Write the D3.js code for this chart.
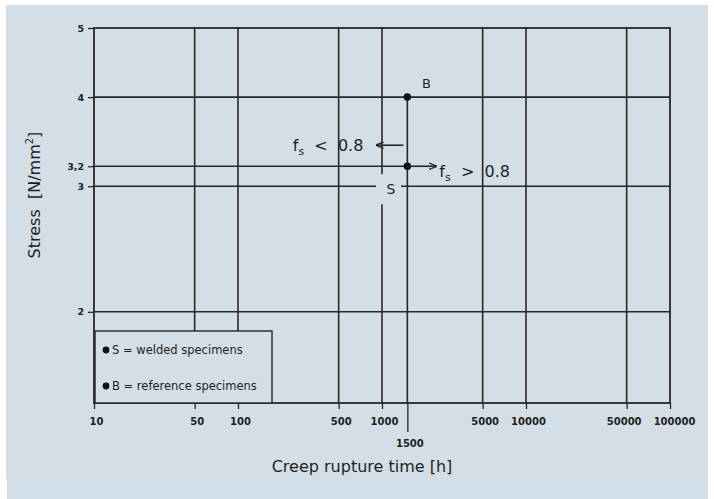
<!DOCTYPE html>
<html><head><meta charset="utf-8">
<script src="https://cdn.jsdelivr.net/npm/d3@7"></script>
<style>
html,body{margin:0;padding:0;background:#ffffff;}
svg{display:block;}
text{font-family:"DejaVu Sans",sans-serif;fill:#1e1e1e;}
</style></head>
<body>
<svg id="chart" width="714" height="499"></svg>
<script>
// ---- data ----
const xTickValues = [10, 50, 100, 500, 1000, 1500, 5000, 10000, 50000, 100000];
const xTickLabels = ["10", "50", "100", "500", "1000", "1500", "5000", "10000", "50000", "100000"];
const xGridValues = [50, 100, 500, 1000, 5000, 10000, 50000];
const yTickValues = [5, 4, 3.2, 3, 2];
const yTickLabels = ["5", "4", "3,2", "3", "2"];
const yGridValues = [4, 3.2, 3, 2];
const pointLabels = ["B", "S"];
const pointTimes = [1500, 1500];
const pointStress = [4, 3.2];
const legendLabels = ["S = welded specimens", "B = reference specimens"];
const xTitle = "Creep rupture time [h]";

// ---- layout ----
const svg = d3.select("#chart");
const bg = "#d4dee7";
const ink = "#262626";
svg.append("rect").attr("x", 6).attr("y", 5).attr("width", 702).attr("height", 474).attr("fill", bg);
svg.append("rect").attr("x", 7).attr("y", 479).attr("width", 701).attr("height", 20).attr("fill", "#d2dfe8");

const x = d3.scaleLog().domain([10, 100000]).range([94, 670]);
const y = d3.scaleLog().domain([1.49, 5]).range([403, 28]);

const g = svg.append("g");
const lw = 1.6;

// horizontal grid lines (3.2 line stops at the S point)
g.selectAll("line.hg").data(yGridValues).join("line")
  .attr("x1", x(10))
  .attr("x2", d => d === 3.2 ? x(1500) : x(100000))
  .attr("y1", d => y(d)).attr("y2", d => y(d))
  .attr("stroke", ink).attr("stroke-width", lw);

// vertical grid lines
g.selectAll("line.vg").data(xGridValues).join("line")
  .attr("x1", d => x(d)).attr("x2", d => x(d))
  .attr("y1", y(5)).attr("y2", y(1.49))
  .attr("stroke", ink).attr("stroke-width", lw);

// frame
g.append("rect").attr("x", x(10)).attr("y", y(5))
  .attr("width", x(100000) - x(10)).attr("height", y(1.49) - y(5))
  .attr("fill", "none").attr("stroke", ink).attr("stroke-width", 1.8);

// y ticks + labels
const yAxis = d3.axisLeft(y).tickValues(yTickValues).tickSize(6).tickPadding(4)
  .tickFormat((d, i) => yTickLabels[i]);
const ya = svg.append("g").attr("transform", `translate(${x(10)},0)`).call(yAxis);
ya.select(".domain").remove();
ya.selectAll(".tick line").attr("stroke", ink).attr("stroke-width", 1.3);
ya.selectAll(".tick text").attr("font-size", 9.5).attr("font-weight", "bold").style("font-family", "DejaVu Sans").attr("fill", "#222");

// x ticks + labels
const xAxis = d3.axisBottom(x).tickValues(xTickValues).tickSize(6).tickPadding(7)
  .tickFormat((d, i) => xTickLabels[i]);
const xa = svg.append("g").attr("transform", `translate(0,${y(1.49)})`).call(xAxis);
xa.select(".domain").remove();
xa.selectAll(".tick line").attr("stroke", ink).attr("stroke-width", 1.3)
  .attr("y2", d => d === 1500 ? 29 : 6);
xa.selectAll(".tick text").attr("font-size", 10).attr("font-weight", "bold").style("font-family", "DejaVu Sans").attr("fill", "#222")
  .attr("dx", d => d === 100000 ? 4 : (d === 50000 ? -3 : 2))
  .attr("y", d => d === 1500 ? 37 : 15);

// vertical connector from B down to axis (1500 h)
g.append("line").attr("x1", x(1500)).attr("x2", x(1500))
  .attr("y1", y(4)).attr("y2", y(1.49))
  .attr("stroke", ink).attr("stroke-width", lw);

// S label with background that breaks the grid lines
const sx = x(1000) + 9, sy = y(3) + 3;
svg.append("rect").attr("x", x(1000) - 6).attr("y", y(3.2) + 8).attr("width", 25).attr("height", 30).attr("fill", bg);
svg.append("text").attr("x", sx).attr("y", sy + 5).attr("text-anchor", "middle")
  .attr("font-size", 14).text(pointLabels[1]);

// points
svg.selectAll("circle.pt").data(pointTimes).join("circle")
  .attr("cx", d => x(d)).attr("cy", (d, i) => y(pointStress[i])).attr("r", 3.8).attr("fill", "#111");

// B label
svg.append("text").attr("x", x(1500) + 19).attr("y", y(4) - 9).attr("text-anchor", "middle")
  .attr("font-size", 13).text(pointLabels[0]);

// arrows
const defs = svg.append("defs");
defs.append("marker").attr("id", "ah").attr("viewBox", "0 0 10 10").attr("refX", 9).attr("refY", 5)
  .attr("markerWidth", 8).attr("markerHeight", 8).attr("markerUnits", "userSpaceOnUse").attr("orient", "auto")
  .append("path").attr("d", "M0,1 L10,5 L0,9").attr("fill", "none").attr("stroke", ink).attr("stroke-width", 1.6);

const ay = y(3.2) - 21;
svg.append("line").attr("x1", x(1500) - 4).attr("x2", x(1500) - 31).attr("y1", ay).attr("y2", ay)
  .attr("stroke", ink).attr("stroke-width", 1.6).attr("marker-end", "url(#ah)");
svg.append("line").attr("x1", x(1500)).attr("x2", x(1500) + 29).attr("y1", y(3.2)).attr("y2", y(3.2))
  .attr("stroke", ink).attr("stroke-width", 1.6).attr("marker-end", "url(#ah)");

function fsLabel(xp, yp, anchor, rest) {
  const t = svg.append("text").attr("x", xp).attr("y", yp).attr("text-anchor", anchor).attr("font-size", 16);
  t.append("tspan").text("f");
  t.append("tspan").attr("font-size", 11).attr("dy", 4).text("s");
  t.append("tspan").attr("dy", -4).text(rest);
}
fsLabel(x(1500) - 44, ay + 6, "end", "\u00a0\u00a0<\u00a0\u00a00.8");
fsLabel(x(1500) + 32, y(3.2) + 11, "start", "\u00a0\u00a0>\u00a0\u00a00.8");

// legend
const lg = svg.append("g");
lg.append("rect").attr("x", x(10) + 1).attr("y", 331).attr("width", 177).attr("height", y(1.49) - 331)
  .attr("fill", bg).attr("stroke", ink).attr("stroke-width", 1.4);
lg.selectAll("circle").data(legendLabels).join("circle")
  .attr("cx", 106).attr("cy", (d, i) => 350 + i * 36).attr("r", 3.4).attr("fill", "#111");
lg.selectAll("text").data(legendLabels).join("text")
  .attr("x", 112).attr("y", (d, i) => 354 + i * 36).attr("font-size", 11.5).text(d => d);

// axis titles
svg.append("text").attr("x", 362).attr("y", 472).attr("text-anchor", "middle").attr("font-size", 16)
  .text(xTitle.replace(" [", "\u00a0["));
const yt = svg.append("text").attr("transform", "translate(40,195) rotate(-90)").attr("text-anchor", "middle").attr("font-size", 16);
yt.append("tspan").text("Stress\u00a0\u00a0[N/mm");
yt.append("tspan").attr("font-size", 10).attr("dy", -7).text("2");
yt.append("tspan").attr("dy", 7).text("]");
</script>
</body></html>
